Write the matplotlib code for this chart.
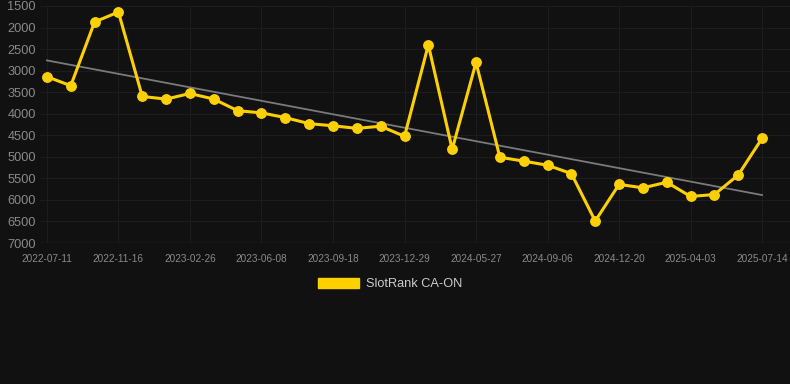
import numpy as np
import matplotlib
matplotlib.use("Agg")
import matplotlib.pyplot as plt
from matplotlib.patches import Patch

plt.rcParams["font.family"] = ["Liberation Sans", "DejaVu Sans"]

dates = ["2022-07-11", "2022-08-22", "2022-10-04", "2022-11-16", "2022-12-20", "2023-01-23",
         "2023-02-26", "2023-04-02", "2023-05-05", "2023-06-08", "2023-07-12", "2023-08-15",
         "2023-09-18", "2023-10-22", "2023-11-25", "2023-12-29", "2024-02-17", "2024-04-07",
         "2024-05-27", "2024-06-30", "2024-08-03", "2024-09-06", "2024-10-11", "2024-11-15",
         "2024-12-20", "2025-01-23", "2025-02-27", "2025-04-03", "2025-05-07", "2025-06-10",
         "2025-07-14"]
rank = [3140, 3350, 1870, 1640, 3600, 3660, 3530, 3660, 3930, 3980, 4090, 4230,
        4280, 4340, 4290, 4525, 2400, 4826, 2810, 5010, 5100, 5195, 5390, 6490,
        5640, 5720, 5590, 5920, 5875, 5420, 4570]
y_ticks = [1500, 2000, 2500, 3000, 3500, 4000, 4500, 5000, 5500, 6000, 6500, 7000]
series_name = "SlotRank CA-ON"

BG = "#111111"
GRID = "#1d1d1d"
TXT = "#8a8a8a"
GOLD = "#FFD000"

fig = plt.figure(figsize=(7.9, 3.84), dpi=100, facecolor=BG)
ax = fig.add_axes([40 / 790, 1 - 243 / 384, 750 / 790, (243 - 6) / 384])
ax.set_facecolor(BG)

x = np.arange(len(dates))
coef = np.polyfit(x, rank, 1)
trend = np.polyval(coef, x)
ax.plot(x, trend, color="#7a7a7a", lw=1.3, zorder=2)
ax.plot(x, rank, color=GOLD, lw=2.2, marker="o", ms=6.8, zorder=3)

ax.set_ylim(7000, 1500)
ax.set_yticks(y_ticks)
ax.set_yticklabels([str(v) for v in y_ticks])
ax.set_xlim(-0.29, len(dates) - 1 + 1.17)
tick_idx = list(range(0, len(dates), 3))
ax.set_xticks(tick_idx)
ax.set_xticklabels([dates[i] for i in tick_idx])

ax.grid(True, color=GRID, lw=0.8)
for s in ax.spines.values():
    s.set_visible(False)
ax.tick_params(axis="y", length=0, pad=3, labelsize=9.2, labelcolor=TXT)
ax.tick_params(axis="x", length=0, pad=8, labelsize=7.2, labelcolor=TXT)
ax.axhline(7000, color="#262626", lw=1)

handle = Patch(facecolor=GOLD, edgecolor=GOLD)
fig.legend([handle], [series_name], loc="center", bbox_to_anchor=(390 / 790, 1 - 284 / 384),
           frameon=False, fontsize=9.2, labelcolor="#cccccc", handlelength=3.2,
           handleheight=0.9, handletextpad=0.5)

fig.savefig("out.png", dpi=100, facecolor=BG)
